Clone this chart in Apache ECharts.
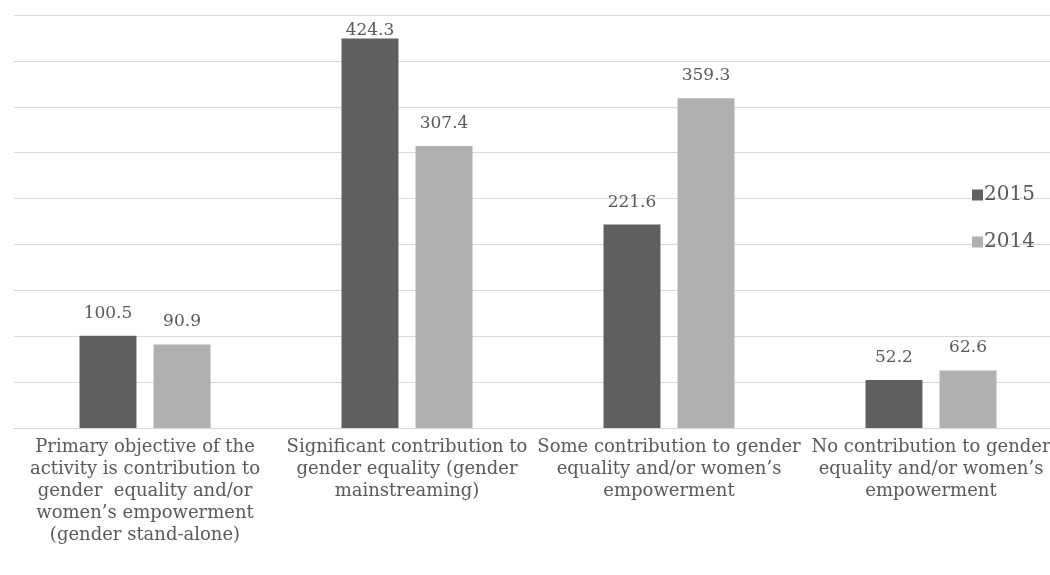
<!DOCTYPE html>
<html><head><meta charset="utf-8">
<script src="https://cdn.jsdelivr.net/npm/echarts@6/dist/echarts.min.js"></script>
<style>html,body{margin:0;padding:0;background:#fff;overflow:hidden;width:1050px;height:575px}#c{width:1062px;height:575px}</style>
</head><body><div id="c"></div>
<script>
var categories = [
  "Primary objective of the\nactivity is contribution to\ngender  equality and/or\nwomen\u2019s empowerment\n(gender stand-alone)",
  "Significant contribution to\ngender equality (gender\nmainstreaming)",
  "Some contribution to gender\nequality and/or women\u2019s\nempowerment",
  "No contribution to gender\nequality and/or women\u2019s\nempowerment"
];
var values2015 = [100.5, 424.3, 221.6, 52.2];
var values2014 = [90.9, 307.4, 359.3, 62.6];
var seriesNames = ["2015", "2014"];

var chart = echarts.init(document.getElementById('c'));
var font = "'DejaVu Serif', 'Liberation Serif', serif";
function withTopFix(arr) {
  return arr.map(function (v) {
    return v > 420 ? {value: v, label: {distance: 0}} : v;
  });
}
chart.setOption({
  animation: false,
  textStyle: {fontFamily: font},
  grid: {left: 14, top: 15, right: 0, height: 413},
  legend: {
    orient: 'vertical', left: 967, top: 180, itemGap: 27,
    itemWidth: 11, itemHeight: 11, icon: 'rect',
    textStyle: {fontFamily: font, fontSize: 20, color: '#595959', padding: [0,0,0,-4]},
    data: seriesNames
  },
  xAxis: {
    type: 'category', data: categories,
    axisLine: {lineStyle: {color: '#d9d9d9', width: 1}},
    axisTick: {show: false},
    axisLabel: {interval: 0, fontFamily: font, fontSize: 18, lineHeight: 22, color: '#595959', margin: 8}
  },
  yAxis: {
    type: 'value', min: 0, max: 450, interval: 50,
    axisLabel: {show: false}, axisLine: {show: false}, axisTick: {show: false},
    splitLine: {lineStyle: {color: '#d9d9d9', width: 1}}
  },
  series: [
    {name: seriesNames[0], type: 'bar', data: withTopFix(values2015), barGap: '30%', barCategoryGap: '50%',
     itemStyle: {color: '#5f5f5f'},
     label: {show: true, position: 'top', distance: 14, fontFamily: font, fontSize: 17, color: '#595959'}},
    {name: seriesNames[1], type: 'bar', data: values2014,
     itemStyle: {color: '#b0b0b0'},
     label: {show: true, position: 'top', distance: 14, fontFamily: font, fontSize: 17, color: '#595959'}}
  ]
});
</script></body></html>
